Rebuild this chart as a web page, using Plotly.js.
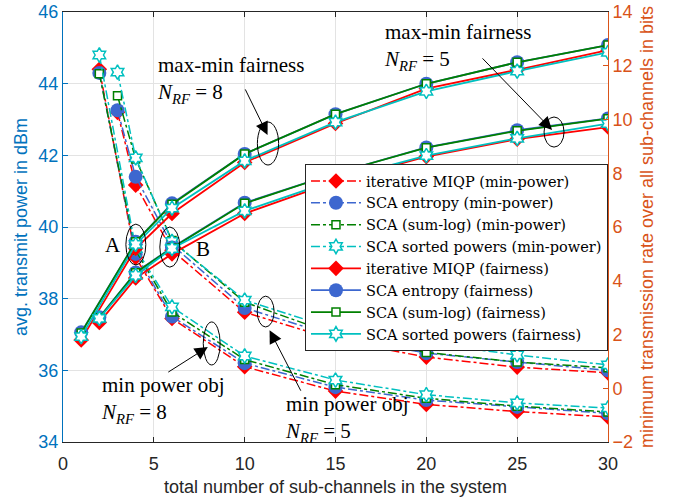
<!DOCTYPE html>
<html><head><meta charset="utf-8">
<script src="https://cdn.plot.ly/plotly-3.0.1.min.js"></script>
<style>html,body{margin:0;padding:0;background:#fff}#chart{width:689px;height:497px}</style>
</head><body><div id="chart"></div>
<script>
// ---- data ----
// min-power objective (left axis, dBm)
const xMinPow8 = [2, 4, 6, 10, 15, 20, 25, 30];
const xMinPow5 = [3, 4, 6, 10, 15, 20, 25, 30];
const mp8_miqp   = [44.40, 39.15, 37.45, 36.10, 35.42, 35.05, 34.85, 34.70];
const mp8_ent    = [44.30, 39.25, 37.50, 36.20, 35.53, 35.17, 34.98, 34.80];
const mp8_sumlog = [44.28, 39.35, 37.63, 36.30, 35.60, 35.22, 35.00, 34.84];
const mp8_sorted = [44.80, 39.40, 37.77, 36.40, 35.73, 35.32, 35.09, 34.95];
const mp5_miqp   = [43.20, 41.17, 39.35, 37.62, 36.85, 36.37, 36.09, 35.93];
const mp5_ent    = [43.26, 41.40, 39.50, 37.74, 36.95, 36.48, 36.23, 36.00];
const mp5_sumlog = [43.66, 41.90, 39.62, 37.90, 37.00, 36.50, 36.23, 36.07];
const mp5_sorted = [44.32, 41.93, 39.60, 37.96, 37.15, 36.76, 36.43, 36.15];
// max-min fairness objective (right axis, bits)
const xFair8 = [1, 4, 6, 10, 15, 20, 25, 30];
const xFair5 = [2, 4, 6, 10, 15, 20, 25, 30];
const f8_miqp   = [1.80, 5.20, 6.50, 8.40, 9.85, 11.15, 11.85, 12.58];
const f8_ent    = [2.08, 5.45, 6.88, 8.72, 10.20, 11.33, 12.13, 12.77];
const f8_sumlog = [2.06, 5.45, 6.85, 8.72, 10.20, 11.33, 12.13, 12.77];
const f8_sorted = [1.92, 5.35, 6.70, 8.46, 9.90, 11.05, 11.80, 12.50];
const f5_miqp   = [2.45, 4.10, 5.00, 6.50, 7.70, 8.62, 9.27, 9.72];
const f5_ent    = [2.64, 4.31, 5.24, 6.90, 8.00, 8.96, 9.60, 10.04];
const f5_sumlog = [2.62, 4.30, 5.22, 6.88, 8.00, 8.95, 9.58, 10.03];
const f5_sorted = [2.60, 4.20, 5.20, 6.60, 7.75, 8.66, 9.30, 9.85];

const names = [
  'iterative MIQP (min-power)', 'SCA entropy (min-power)', 'SCA (sum-log) (min-power)', 'SCA sorted powers (min-power)',
  'iterative MIQP (fairness)', 'SCA entropy (fairness)', 'SCA (sum-log) (fairness)', 'SCA sorted powers (fairness)'
];
const xTicks = [0, 5, 10, 15, 20, 25, 30];

// ---- styles ----
const RED = '#FF0000', BLUE = '#3D67CF', GREEN = '#008000', CYAN = '#00C0C0';
const markers = [
  {symbol: 'diamond', size: 12, color: RED, line: {width: 0}},
  {symbol: 'circle', size: 14, color: BLUE, line: {width: 0}},
  {symbol: 'square', size: 8, color: 'white', line: {color: GREEN, width: 1.5}},
  {symbol: 'hexagram', size: 11, color: 'white', line: {color: CYAN, width: 1.5}}
];
const colors = [RED, BLUE, GREEN, CYAN];

function join(xa, ya, xb, yb) {
  return {x: xa.concat([null], xb), y: ya.concat([null], yb)};
}
const mpSets = [[mp8_miqp, mp5_miqp], [mp8_ent, mp5_ent], [mp8_sumlog, mp5_sumlog], [mp8_sorted, mp5_sorted]];
const fSets = [[f8_miqp, f5_miqp], [f8_ent, f5_ent], [f8_sumlog, f5_sumlog], [f8_sorted, f5_sorted]];

const traces = [];
mpSets.forEach((s, i) => {
  const d = join(xMinPow8, s[0], xMinPow5, s[1]);
  traces.push({x: d.x, y: d.y, name: names[i], type: 'scatter', mode: 'lines+markers', yaxis: 'y',
    connectgaps: false, line: {color: colors[i], width: 1.5, dash: 'dashdot'}, marker: markers[i]});
});
fSets.forEach((s, i) => {
  const d = join(xFair8, s[0], xFair5, s[1]);
  traces.push({x: d.x, y: d.y, name: names[4 + i], type: 'scatter', mode: 'lines+markers', yaxis: 'y2',
    connectgaps: false, line: {color: colors[i], width: 1.8, dash: 'solid'}, marker: markers[i]});
});

const SERIF = 'Liberation Serif, Times New Roman, serif';
const LSERIF = 'DejaVu Serif, serif';
const SANS = 'Liberation Sans, Arial, sans-serif';
const AXBLUE = '#0072BD', AXORANGE = '#D95319', DARK = '#262626';
const nrf = n => '<i>N</i><sub><i>RF</i></sub> = ' + n;

function ell(x0, x1, y0, y1) {
  return {type: 'circle', xref: 'x', yref: 'y', x0: x0, x1: x1, y0: y0, y1: y1, line: {color: 'black', width: 1}};
}
function txt(x, y, t, size) {
  return {x: x, y: y, xref: 'x', yref: 'y', text: t, showarrow: false, xanchor: 'left', yanchor: 'middle',
    align: 'left', font: {family: SERIF, size: size || 21, color: 'black'}};
}
function arr(x, y, ax, ay) {
  return {x: x, y: y, xref: 'x', yref: 'y', text: '', showarrow: true, ax: ax, ay: ay,
    arrowhead: 2, arrowsize: 2.6, arrowwidth: 1, arrowcolor: 'black'};
}

const layout = {
  width: 689, height: 497,
  margin: {l: 63, r: 81, t: 12, b: 55, pad: 0},
  paper_bgcolor: 'white', plot_bgcolor: 'white',
  showlegend: true,
  legend: {x: 0.444, y: 0.6465, xanchor: 'left', yanchor: 'top', bgcolor: 'white',
    bordercolor: DARK, borderwidth: 1, font: {family: LSERIF, size: 14.5, color: 'black'},
    itemwidth: 50, tracegroupgap: 0},
  xaxis: {range: [0, 30], tickvals: xTicks, ticks: 'inside', ticklen: 5, tickcolor: DARK,
    showline: true, linecolor: DARK, linewidth: 1, mirror: 'ticks', showgrid: true, gridcolor: '#E3E3E3',
    zeroline: false, tickfont: {family: SANS, size: 18, color: DARK}, ticklabelstandoff: 5,
    title: {text: 'total number of sub-channels in the system', font: {family: SANS, size: 18, color: DARK}, standoff: 8}},
  yaxis: {range: [34, 46], dtick: 2, ticks: 'inside', ticklen: 5, tickcolor: AXBLUE,
    showline: true, linecolor: AXBLUE, linewidth: 1, showgrid: true, gridcolor: '#E3E3E3', zeroline: false,
    tickfont: {family: SANS, size: 18, color: AXBLUE},
    title: {text: 'avg. transmit power in dBm', font: {family: SANS, size: 18, color: AXBLUE}, standoff: 6}},
  yaxis2: {range: [-2, 14], dtick: 2, overlaying: 'y', side: 'right', ticks: 'inside', ticklen: 5, tickcolor: AXORANGE,
    showline: true, linecolor: AXORANGE, linewidth: 1, showgrid: false, zeroline: false,
    tickfont: {family: SANS, size: 18, color: AXORANGE},
    title: {text: 'minimum transmission rate over all sub-channels in bits', font: {family: SANS, size: 18, color: AXORANGE}, standoff: 8}},
  shapes: [
    ell(10.7, 11.87, 41.73, 42.93),
    ell(26.48, 27.58, 42.23, 43.07),
    ell(3.46, 4.56, 38.94, 40.08),
    ell(5.33, 6.43, 38.88, 40.0),
    ell(7.72, 8.65, 36.15, 37.35),
    ell(10.69, 11.62, 37.21, 38.07)
  ],
  annotations: [
    txt(5.05, 44.10, 'max-min fairness<br>' + nrf(8)),
    txt(17.58, 45.01, 'max-min fairness<br>' + nrf(5)),
    txt(1.98, 35.17, 'min power obj<br>' + nrf(8)),
    txt(12.09, 34.655, 'min power obj<br>' + nrf(5)),
    {x: 2.75, y: 39.5, xref: 'x', yref: 'y', text: 'A', showarrow: false, font: {family: SERIF, size: 21, color: 'black'}},
    {x: 7.69, y: 39.39, xref: 'x', yref: 'y', text: 'B', showarrow: false, font: {family: SERIF, size: 21, color: 'black'}},
    arr(11.26, 42.57, -23, -47),
    arr(26.92, 42.71, -71, -73),
    arr(7.97, 36.65, -41, 26),
    arr(11.37, 37.12, 32, 62)
  ]
};

Plotly.newPlot('chart', traces, layout, {staticPlot: true, displayModeBar: false});
</script></body></html>
